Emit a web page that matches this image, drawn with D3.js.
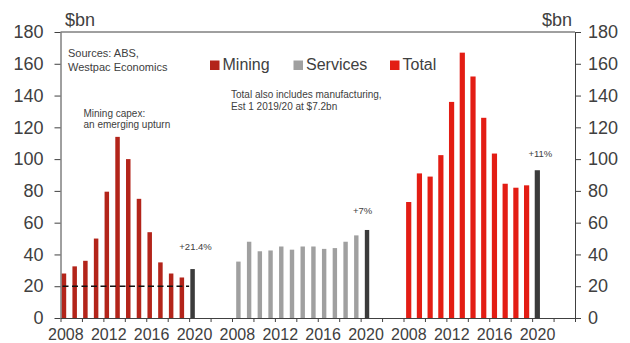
<!DOCTYPE html>
<html>
<head>
<meta charset="utf-8">
<script src="https://cdn.jsdelivr.net/npm/d3@7"></script>
<style>
  body { margin: 0; background: #fff; }
  text { font-family: "Liberation Sans", Arial, sans-serif; fill: #404040; }
</style>
</head>
<body>
<script>
// Chart values ($bn, last year is the estimate)
const years = [2008, 2009, 2010, 2011, 2012, 2013, 2014, 2015, 2016, 2017, 2018, 2019, 2020];
const miningValues = [28, 32.5, 36, 50, 79.5, 114, 100, 75, 54, 35, 28, 25.5, 30.8];
const servicesValues = [35.5, 48, 42, 42.5, 45, 43, 45, 45, 43.5, 44, 48, 52, 55.4];
const totalValues = [73, 91, 89, 102.5, 136, 167, 152, 126, 103.5, 84.5, 82, 83.5, 93];
const seriesNames = ["Mining", "Services", "Total"];
const yTicks = [0, 20, 40, 60, 80, 100, 120, 140, 160, 180];
const xLabelYears = [2008, 2012, 2016, 2020];
const growthNotes = ["+21.4%", "+7%", "+11%"];
const miningAverage = 20;

const width = 630, height = 343;
const margin = { top: 32, right: 55, bottom: 25, left: 60.5 };
const slotsPerGroup = 16;

const colors = { Mining: "#b3241a", Services: "#a0a0a0", Total: "#e31d14" };
const estimateColor = "#3b3b3b";
const barStyle = { Mining: { dx: 1.2, w: 4.5 }, Services: { dx: 4.2, w: 4.4 }, Total: { dx: 2.6, w: 5.2 } };
const noteOffsets = [{ dx: 3, dy: -19 }, { dx: -4.5, dy: -16 }, { dx: 3, dy: -13 }];

const valuesBySeries = { Mining: miningValues, Services: servicesValues, Total: totalValues };

// one slot per year in each group, plus blank slots between the groups
const slots = [];
seriesNames.forEach(s => d3.range(slotsPerGroup).forEach(i => slots.push(s + "-" + i)));

const bars = [];
seriesNames.forEach(s => {
    years.forEach((yr, i) => {
        bars.push({ series: s, year: yr, slot: s + "-" + i, value: valuesBySeries[s][i], estimate: i === years.length - 1 });
    });
});

const svg = d3.select("body").append("svg")
    .attr("width", width)
    .attr("height", height);

const x = d3.scaleBand()
    .domain(slots)
    .range([margin.left, width - margin.right]);

const y = d3.scaleLinear()
    .domain([0, 180])
    .range([height - margin.bottom, margin.top]);

const axisColor = "#404040";

// Bars
svg.selectAll(".bar")
    .data(bars)
    .enter()
    .append("rect")
    .attr("class", "bar")
    .attr("x", d => x(d.slot) + barStyle[d.series].dx)
    .attr("y", d => y(d.value))
    .attr("width", d => barStyle[d.series].w)
    .attr("height", d => y(0) - y(d.value))
    .attr("fill", d => d.estimate ? estimateColor : colors[d.series]);

// Mining average dashed line
const lastMining = bars.filter(d => d.series === "Mining");
svg.append("line")
    .attr("x1", x(lastMining[0].slot) + 2)
    .attr("x2", x(lastMining[lastMining.length - 1].slot))
    .attr("y1", y(miningAverage))
    .attr("y2", y(miningAverage))
    .attr("stroke", "#111")
    .attr("stroke-width", 1.5)
    .attr("stroke-dasharray", "6,3.5");

// Frame top
svg.append("line")
    .attr("x1", margin.left).attr("x2", width - margin.right)
    .attr("y1", y(180)).attr("y2", y(180))
    .attr("stroke", axisColor);

// Left axis
const leftAxis = svg.append("g")
    .attr("transform", `translate(${margin.left},0)`)
    .call(d3.axisLeft(y).tickValues(yTicks).tickSize(6).tickSizeOuter(0).tickPadding(11));

// Right axis
const rightAxis = svg.append("g")
    .attr("transform", `translate(${width - margin.right},0)`)
    .call(d3.axisRight(y).tickValues(yTicks).tickSize(6).tickSizeOuter(0).tickPadding(7));

[leftAxis, rightAxis].forEach(g => {
    g.selectAll("text").style("font-size", "18px").attr("fill", axisColor);
    g.selectAll("line, path").attr("stroke", axisColor);
});

// X axis: small ticks every two years, year labels under the bars
const slotIndex = d3.scaleLinear()
    .domain([0, slots.length])
    .range(x.range());

svg.append("g")
    .attr("transform", `translate(0,${y(0)})`)
    .call(d3.axisBottom(slotIndex).tickValues(d3.range(0, slots.length + 1, 2)).tickFormat("").tickSize(4).tickSizeOuter(0))
    .selectAll("line, path").attr("stroke", axisColor);

const labelSlots = bars.filter(d => xLabelYears.includes(d.year));
const xLabels = svg.append("g")
    .attr("transform", `translate(0,${y(0)})`)
    .call(d3.axisBottom(x)
        .tickValues(labelSlots.map(d => d.slot))
        .tickFormat(s => labelSlots.find(d => d.slot === s).year)
        .tickSize(0).tickPadding(10.5));
xLabels.select(".domain").remove();
xLabels.selectAll("text").style("font-size", "16px").attr("fill", axisColor);

// Units
svg.append("text").attr("x", 65).attr("y", 26).style("font-size", "18px").text("$bn");
svg.append("text").attr("x", 572).attr("y", 26).attr("text-anchor", "end").style("font-size", "18px").text("$bn");

// Legend
const legendX = [210, 293.5, 390];
const legend = svg.selectAll(".legend")
    .data(seriesNames)
    .enter()
    .append("g")
    .attr("class", "legend")
    .attr("transform", (d, i) => `translate(${legendX[i]},0)`);
legend.append("rect")
    .attr("x", 0).attr("y", 60.5)
    .attr("width", 9.5).attr("height", 9.5)
    .attr("fill", d => colors[d]);
legend.append("text")
    .attr("x", 12.5).attr("y", 69.5)
    .style("font-size", "16px")
    .text(d => d);

// Notes
function multiline(xPos, yPos, lines, size, lineHeight) {
    const t = svg.append("text").attr("x", xPos).attr("y", yPos).style("font-size", size + "px");
    lines.forEach((l, i) => t.append("tspan").attr("x", xPos).attr("dy", i === 0 ? 0 : lineHeight).text(l));
}
multiline(68, 57, ["Sources: ABS,", "Westpac Economics"], 11, 14);
multiline(83.5, 117, ["Mining capex:", "an emerging upturn"], 10, 11);
multiline(231, 97.5, ["Total also includes manufacturing,", "Est 1 2019/20 at $7.2bn"], 10, 12);

// Growth labels above the estimate bars
const estimates = bars.filter(d => d.estimate);
svg.selectAll(".growth")
    .data(estimates)
    .enter()
    .append("text")
    .attr("class", "growth")
    .attr("x", (d, i) => x(d.slot) + barStyle[d.series].dx + barStyle[d.series].w / 2 + noteOffsets[i].dx)
    .attr("y", (d, i) => y(d.value) + noteOffsets[i].dy)
    .attr("text-anchor", "middle")
    .style("font-size", "9.5px")
    .attr("fill", "#555")
    .text((d, i) => growthNotes[i]);
</script>
</body>
</html>
